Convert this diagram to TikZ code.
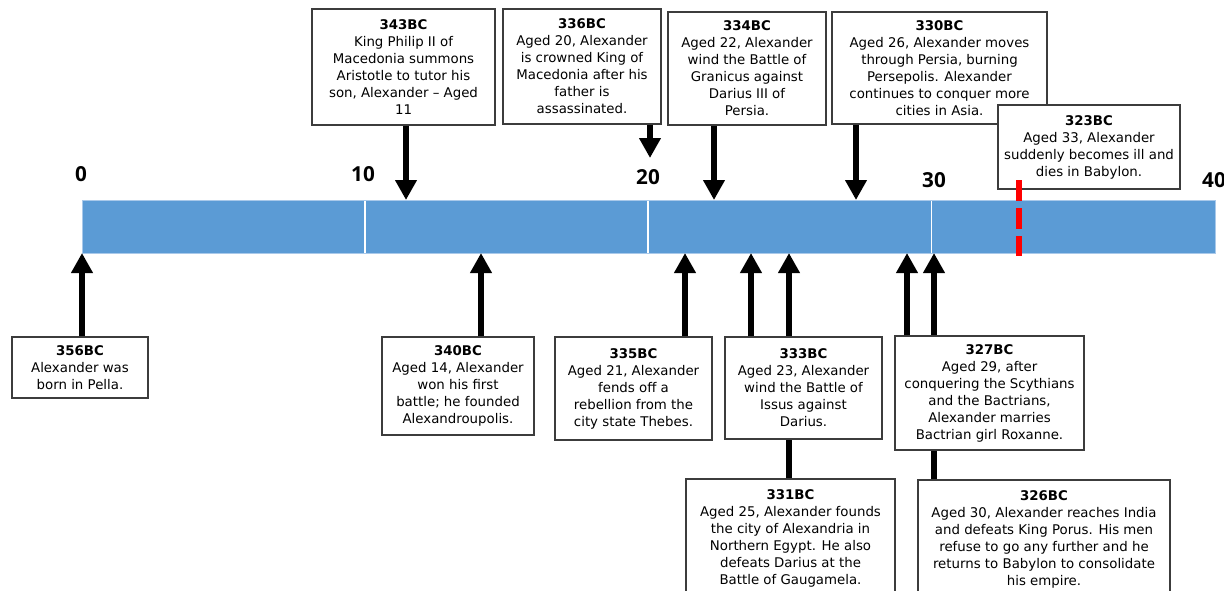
\documentclass[tikz,border=0pt]{standalone}
\usepackage{fontspec}
\setmainfont{DejaVu Sans}
\newfontfamily\numfont{Open Sans}
\usetikzlibrary{arrows.meta}
\definecolor{barblue}{HTML}{5B9BD5}
\definecolor{barline}{HTML}{A9C9EA}
\definecolor{boxgray}{HTML}{3C3C3C}
\begin{document}
\begin{tikzpicture}[x=0.75pt,y=-0.75pt,
  evbox/.style={draw=boxgray, line width=1.1pt, fill=white, align=center, inner sep=0pt,
    font=\fontsize{10}{12.75}\selectfont},
  arr/.style={line width=4.3pt, -{Triangle[width=15.5pt,length=15pt]}},
  stem/.style={line width=4.3pt},
  scalelbl/.style={font=\numfont\bfseries\fontsize{15.5}{18}\selectfont, inner sep=0pt},
  deathline/.style={red, line width=4.5pt, dash pattern=on 15.75pt off 5.25pt}
]
\clip (0,0) rectangle (1224,590);
\fill[white] (0,0) rectangle (1224,590);

% timeline bar
\node[fill=barblue, draw=barline, line width=0.6pt, inner sep=0pt,
  minimum width=849.75pt, minimum height=39.75pt] (bar) at (648.5,226.5) {};
\draw[white, line width=1.2pt] (365,200.5) -- (365,252.5);
\draw[white, line width=1.2pt] (648,200.5) -- (648,252.5);
\draw[white, line width=1.2pt] (931.5,200.5) -- (931.5,252.5);

% scale labels
\node[scalelbl] (l0) at (81,174) {0};
\node[scalelbl] (l10) at (363,174) {10};
\node[scalelbl] (l20) at (648,177) {20};
\node[scalelbl] (l30) at (934,180) {30};
\node[scalelbl] (l40) at (1214,180) {40};

% target points on the bar
\coordinate (t343) at (406,200);
\coordinate (t336) at (650,158);
\coordinate (t334) at (714,200);
\coordinate (t330) at (856,200);
\coordinate (u356) at (82,253);
\coordinate (u340) at (481,253);
\coordinate (u335) at (685,253);
\coordinate (u333) at (751,253);
\coordinate (u331) at (789,253);
\coordinate (u327) at (907,253);
\coordinate (u326) at (934,253);

% upper boxes
\node[evbox, minimum width=137.25pt, minimum height=87pt] (b343) at (403.5,67)
  {\textbf{343BC}\\King Philip II of\\Macedonia summons\\Aristotle to tutor his\\son, Alexander – Aged\\11};
\node[evbox, minimum width=118.5pt, minimum height=86.25pt] (b336) at (582,66.5)
  {\textbf{336BC}\\Aged 20, Alexander\\is crowned King of\\Macedonia after his\\father is\\assassinated.};
\node[evbox, minimum width=118.5pt, minimum height=84.75pt] (b334) at (747,68.5)
  {\textbf{334BC}\\Aged 22, Alexander\\wind the Battle of\\Granicus against\\Darius III of\\Persia.};
\node[evbox, minimum width=161.25pt, minimum height=84pt] (b330) at (939.5,68)
  {\textbf{330BC}\\Aged 26, Alexander moves\\through Persia, burning\\Persepolis. Alexander\\continues to conquer more\\cities in Asia.};
\node[evbox, minimum width=136.5pt, minimum height=63pt] (b323) at (1089,147)
  {\textbf{323BC}\\Aged 33, Alexander\\suddenly becomes ill and\\dies in Babylon.};

% death marker
\draw[deathline] (1018.5,180) -- (1018.5,256);

% arrows from upper boxes
\draw[arr] (b343.south -| t343) -- (t343);
\draw[arr] (b336.south -| t336) -- (t336);
\draw[arr] (b334.south -| t334) -- (t334);
\draw[arr] (b330.south -| t330) -- (t330);

% lower-level boxes (drawn first so the upper boxes cover their stems)
\node[evbox, minimum width=156.75pt, minimum height=89.25pt] (b331) at (790.5,538.5)
  {\textbf{331BC}\\Aged 25, Alexander founds\\the city of Alexandria in\\Northern Egypt. He also\\defeats Darius at the\\Battle of Gaugamela.};
\node[evbox, minimum width=189pt, minimum height=88.5pt] (b326) at (1044,539)
  {\textbf{326BC}\\Aged 30, Alexander reaches India\\and defeats King Porus. His men\\refuse to go any further and he\\returns to Babylon to consolidate\\his empire.};
\draw[arr] (b331.north -| u331) -- (u331);
\draw[arr] (b326.north -| u326) -- (u326);

% lower boxes
\node[evbox, minimum width=102pt, minimum height=45.75pt] (b356) at (80,367.5)
  {\textbf{356BC}\\Alexander was\\born in Pella.};
\node[evbox, minimum width=114pt, minimum height=73.5pt] (b340) at (458,386)
  {\textbf{340BC}\\Aged 14, Alexander\\won his first\\battle; he founded\\Alexandroupolis.};
\node[evbox, minimum width=117.75pt, minimum height=77.25pt] (b335) at (633.5,388.5)
  {\textbf{335BC}\\Aged 21, Alexander\\fends off a\\rebellion from the\\city state Thebes.};
\node[evbox, minimum width=117.75pt, minimum height=76.5pt] (b333) at (803.5,388)
  {\textbf{333BC}\\Aged 23, Alexander\\wind the Battle of\\Issus against\\Darius.};
\node[evbox, minimum width=141.75pt, minimum height=85.5pt] (b327) at (989.5,393)
  {\textbf{327BC}\\Aged 29, after\\conquering the Scythians\\and the Bactrians,\\Alexander marries\\Bactrian girl Roxanne.};

% arrows from lower boxes
\draw[arr] (b356.north -| u356) -- (u356);
\draw[arr] (b340.north -| u340) -- (u340);
\draw[arr] (b335.north -| u335) -- (u335);
\draw[arr] (b333.north -| u333) -- (u333);
\draw[arr] (b327.north -| u327) -- (u327);
\end{tikzpicture}
\end{document}
